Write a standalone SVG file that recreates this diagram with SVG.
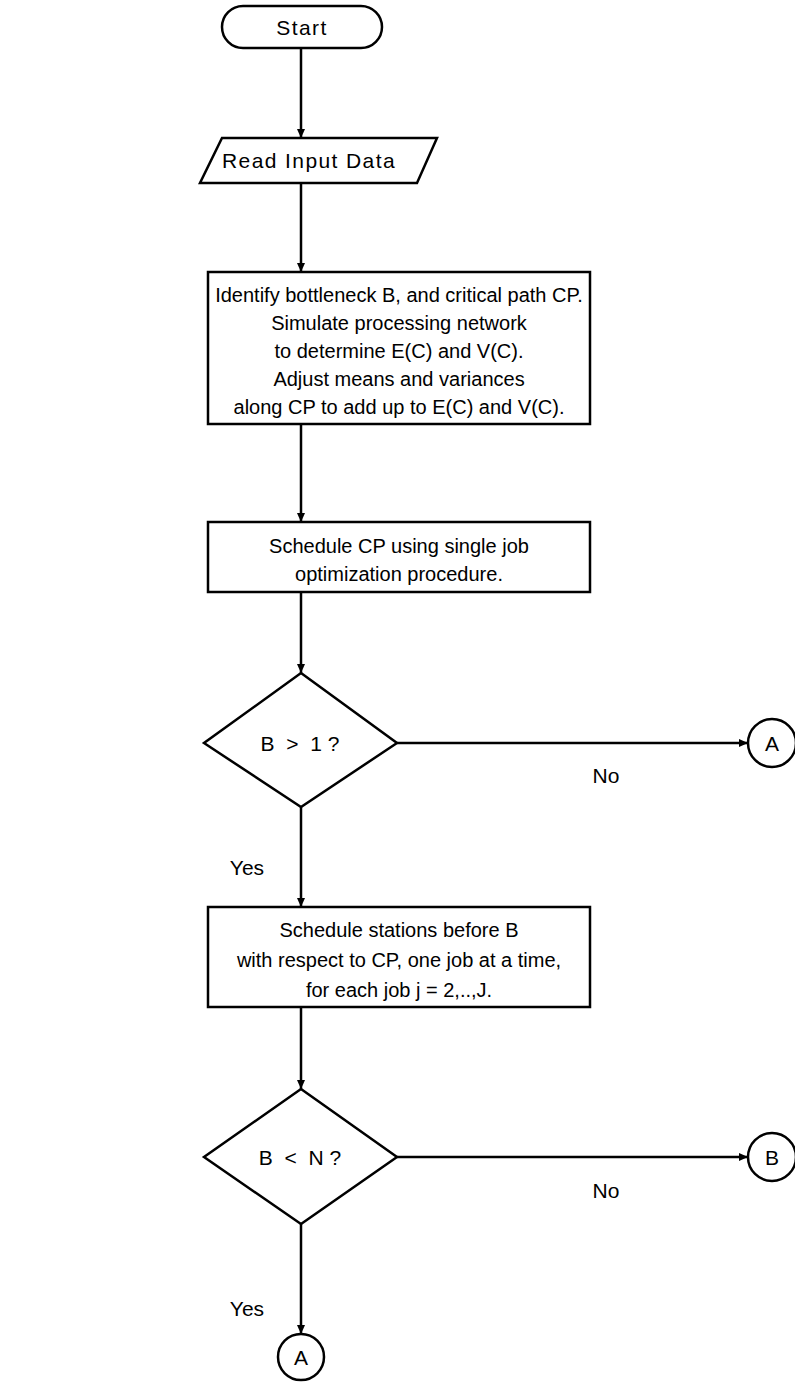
<svg xmlns="http://www.w3.org/2000/svg" width="795" height="1382" viewBox="0 0 795 1382">
  <defs>
    <marker id="arrow" markerWidth="10" markerHeight="10" refX="9" refY="5" orient="auto" markerUnits="userSpaceOnUse">
      <path d="M0,1 L9,5 L0,9 Z" fill="#000"/>
    </marker>
    <style>
      .shape { fill: #fff; stroke: #000; stroke-width: 2.5; }
      .edge { fill: none; stroke: #000; stroke-width: 2.5; }
      text { font-family: "Liberation Sans", Arial, Helvetica, sans-serif; font-size: 21px; fill: #000; }
      .c { text-anchor: middle; }
      .box { font-size: 20px; }
      .wide { font-size: 21px; letter-spacing: 1.4px; }
    </style>
  </defs>
  <rect width="795" height="1382" fill="#fff"/>

  <!-- connectors -->
  <g id="connectors">
    <line class="edge" x1="301" y1="48" x2="301" y2="138" marker-end="url(#arrow)"/>
    <line class="edge" x1="301" y1="183" x2="301" y2="272" marker-end="url(#arrow)"/>
    <line class="edge" x1="301" y1="424" x2="301" y2="522" marker-end="url(#arrow)"/>
    <line class="edge" x1="301" y1="592" x2="301" y2="673" marker-end="url(#arrow)"/>
    <line class="edge" x1="397" y1="743" x2="748" y2="743" marker-end="url(#arrow)"/>
    <line class="edge" x1="301" y1="807" x2="301" y2="907" marker-end="url(#arrow)"/>
    <line class="edge" x1="301" y1="1007" x2="301" y2="1089" marker-end="url(#arrow)"/>
    <line class="edge" x1="397" y1="1157" x2="748" y2="1157" marker-end="url(#arrow)"/>
    <line class="edge" x1="301" y1="1224" x2="301" y2="1334" marker-end="url(#arrow)"/>
    <text x="606" y="783" class="c">No</text>
    <text x="247" y="875" class="c">Yes</text>
    <text x="606" y="1198" class="c">No</text>
    <text x="247" y="1316" class="c">Yes</text>
  </g>

  <!-- start terminal -->
  <g id="start">
    <rect class="shape" x="222" y="6" width="160" height="42" rx="21" ry="21"/>
    <text x="302" y="35" class="c wide">Start</text>
  </g>

  <!-- input -->
  <g id="read-input">
    <polygon class="shape" points="222,138 437,138 417,183 200,183"/>
    <text x="309" y="168" class="c wide">Read Input Data</text>
  </g>

  <!-- identification and simulation step -->
  <g id="identify">
    <rect class="shape" x="208" y="272" width="382" height="152"/>
    <text class="c box" x="399" y="302">Identify bottleneck B, and critical path CP.</text>
    <text class="c box" x="399" y="330">Simulate processing network</text>
    <text class="c box" x="399" y="358">to determine E(C) and V(C).</text>
    <text class="c box" x="399" y="386">Adjust means and variances</text>
    <text class="c box" x="399" y="414">along CP to add up to E(C) and V(C).</text>
  </g>

  <!-- schedule critical path -->
  <g id="schedule-cp">
    <rect class="shape" x="208" y="522" width="382" height="70"/>
    <text class="c box" x="399" y="553">Schedule CP using single job</text>
    <text class="c box" x="399" y="581">optimization procedure.</text>
  </g>

  <!-- decision B > 1 -->
  <g id="decision-b-gt-1">
    <polygon class="shape" points="301,673 397,743 301,807 204,743"/>
    <text class="c" x="300" y="751" xml:space="preserve">B  &gt;  1 ?</text>
  </g>

  <!-- connector A (right) -->
  <g id="connector-a-right">
    <circle class="shape" cx="772" cy="743" r="24"/>
    <text class="c" x="772" y="751">A</text>
  </g>

  <!-- schedule stations before B -->
  <g id="schedule-stations">
    <rect class="shape" x="208" y="907" width="382" height="100"/>
    <text class="c box" x="399" y="937">Schedule stations before B</text>
    <text class="c box" x="399" y="967">with respect to CP, one job at a time,</text>
    <text class="c box" x="399" y="997">for each job j = 2,..,J.</text>
  </g>

  <!-- decision B < N -->
  <g id="decision-b-lt-n">
    <polygon class="shape" points="301,1089 397,1157 301,1224 204,1157"/>
    <text class="c" x="300" y="1165" xml:space="preserve">B  &lt;  N ?</text>
  </g>

  <!-- connector B (right) -->
  <g id="connector-b-right">
    <circle class="shape" cx="772" cy="1157" r="24"/>
    <text class="c" x="772" y="1165">B</text>
  </g>

  <!-- connector A (bottom) -->
  <g id="connector-a-bottom">
    <circle class="shape" cx="301" cy="1357" r="23"/>
    <text class="c" x="301" y="1365">A</text>
  </g>
</svg>
